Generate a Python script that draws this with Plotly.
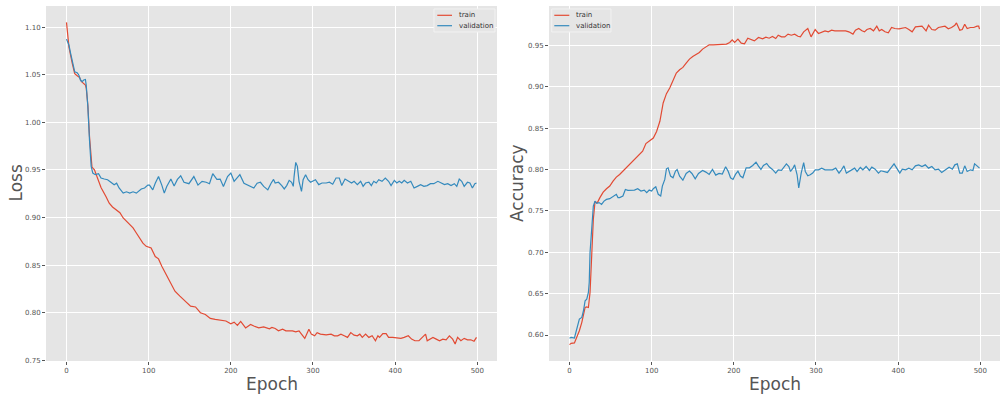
import plotly.graph_objects as go

# ---------------- data ----------------
loss_train_epoch = [0, 3, 7, 10, 13, 16, 18, 21, 23, 24, 26, 28, 30, 31, 34, 38, 42, 48, 52, 56, 60, 65, 69, 73, 77, 81, 85, 89, 93, 97,
                    103, 108, 112, 116, 120, 124, 128, 132, 138, 145, 151, 157, 163, 169, 175, 181, 187, 194, 200, 204, 208, 212,
                    218, 224, 228, 234, 240, 247, 250, 254, 258, 263, 267, 271, 275, 279, 283, 286, 290, 295, 298, 302, 305, 309,
                    316, 322, 326, 330, 334, 338, 342, 346, 350, 354, 357, 360, 364, 368, 372, 376, 379, 381, 385, 389, 392, 397,
                    403, 407, 411, 416, 420, 424, 429, 433, 437, 439, 442, 446, 450, 454, 458, 462, 466, 470, 473, 476, 480, 484,
                    488, 492, 496, 499]
loss_train = [1.105, 1.079, 1.062, 1.051, 1.049, 1.047, 1.043, 1.040, 1.039, 1.036, 1.018, 0.985, 0.955, 0.953, 0.950, 0.940,
              0.9315, 0.922, 0.915, 0.911, 0.908, 0.905, 0.8995, 0.896, 0.8925, 0.889, 0.8837, 0.8785, 0.873, 0.8697, 0.868,
              0.859, 0.8565, 0.8488, 0.8418, 0.8348, 0.8278, 0.8225, 0.8173, 0.812, 0.8068, 0.806, 0.7999, 0.798, 0.794, 0.7929,
              0.792, 0.7912, 0.7883, 0.790, 0.7866, 0.7908, 0.784, 0.7876, 0.786, 0.784, 0.785, 0.783, 0.7844, 0.7833, 0.7809,
              0.7826, 0.7809, 0.7809, 0.7809, 0.7798, 0.7809, 0.7774, 0.7729, 0.7826, 0.7774, 0.7757, 0.779, 0.7774, 0.7767,
              0.7774, 0.7757, 0.7757, 0.7774, 0.7757, 0.774, 0.779, 0.7764, 0.7757, 0.7774, 0.774, 0.7774, 0.774, 0.7757,
              0.7705, 0.7757, 0.774, 0.778, 0.778, 0.774, 0.774, 0.7736, 0.773, 0.774, 0.7757, 0.7722, 0.7705, 0.7705, 0.774,
              0.7774, 0.7705, 0.7722, 0.774, 0.7722, 0.7705, 0.7722, 0.7715, 0.7757, 0.7722, 0.767, 0.774, 0.7705, 0.773,
              0.7715, 0.7715, 0.770, 0.774]

loss_val_epoch = [0, 3, 5, 8, 10, 13, 15, 17, 19, 21, 23, 24, 26, 28, 30, 32, 35, 39, 42, 46, 50, 54, 58, 61, 64, 69, 73, 77, 81,
                  85, 91, 95, 99, 101, 105, 108, 112, 116, 119, 122, 127, 131, 135, 139, 143, 149, 155, 160, 165, 170, 174, 178,
                  183, 187, 191, 196, 200, 204, 208, 211, 216, 220, 225, 228, 232, 236, 240, 245, 249, 252, 254, 258, 262, 265,
                  268, 271, 274, 276, 277, 279, 281, 283, 286, 288, 291, 294, 297, 300, 303, 307, 311, 316, 320, 324, 328, 332,
                  335, 339, 343, 347, 350, 354, 358, 361, 364, 368, 371, 374, 377, 380, 384, 388, 392, 395, 399, 402, 405, 408,
                  411, 415, 419, 423, 427, 431, 435, 439, 443, 447, 452, 456, 460, 464, 468, 472, 475, 478, 481, 484, 488, 491,
                  494, 497, 499]
loss_val = [1.0874, 1.081, 1.0724, 1.060, 1.053, 1.052, 1.0497, 1.0444, 1.0427, 1.0444, 1.045, 1.039, 1.0165, 0.981, 0.954,
            0.9466, 0.945, 0.946, 0.9414, 0.9404, 0.9396, 0.937, 0.9344, 0.936, 0.931, 0.9256, 0.927, 0.9256, 0.927, 0.9256,
            0.930, 0.931, 0.934, 0.934, 0.929, 0.936, 0.943, 0.934, 0.9256, 0.9326, 0.9404, 0.933, 0.940, 0.9438, 0.937,
            0.9355, 0.943, 0.934, 0.938, 0.937, 0.9355, 0.946, 0.940, 0.9404, 0.9326, 0.943, 0.9466, 0.938, 0.9414, 0.945,
            0.936, 0.9344, 0.9326, 0.931, 0.936, 0.937, 0.9326, 0.929, 0.936, 0.940, 0.9362, 0.937, 0.9335, 0.930, 0.9335,
            0.939, 0.937, 0.9327, 0.9432, 0.9579, 0.9537, 0.938, 0.9275, 0.9397, 0.945, 0.9397, 0.937, 0.938, 0.9397, 0.9345,
            0.9362, 0.9362, 0.937, 0.935, 0.9415, 0.9415, 0.9335, 0.9404, 0.938, 0.9362, 0.938, 0.9345, 0.938, 0.9327, 0.9362,
            0.937, 0.9335, 0.938, 0.9362, 0.9397, 0.938, 0.9415, 0.938, 0.9335, 0.939, 0.9362, 0.938, 0.9362, 0.939, 0.9362,
            0.938, 0.931, 0.9327, 0.9345, 0.9327, 0.9335, 0.9355, 0.9355, 0.938, 0.9362, 0.9345, 0.9355, 0.9335, 0.9355,
            0.9327, 0.9404, 0.938, 0.9327, 0.937, 0.9362, 0.931, 0.9355, 0.9362]

acc_train_epoch = [0, 2, 6, 8, 12, 15, 17, 19, 21, 23, 25, 27, 29, 31, 34, 37, 41, 45, 49, 53, 57, 61, 65, 69, 73, 77, 81, 85, 89,
                   93, 97, 102, 106, 110, 114, 118, 122, 126, 130, 134, 138, 142, 146, 150, 154, 158, 162, 166, 170, 175, 179,
                   183, 187, 191, 195, 198, 201, 205, 209, 213, 217, 221, 225, 230, 235, 239, 243, 247, 251, 254, 258, 262, 266,
                   270, 274, 278, 281, 285, 290, 294, 299, 303, 307, 311, 315, 319, 323, 327, 331, 336, 340, 345, 348, 352, 356,
                   359, 362, 366, 370, 374, 377, 380, 384, 388, 392, 396, 401, 405, 409, 413, 417, 421, 425, 429, 434, 437, 441,
                   445, 449, 453, 457, 461, 465, 469, 471, 475, 478, 481, 484, 488, 492, 496, 498, 499]
acc_train = [0.5884, 0.590, 0.5904, 0.5952, 0.6052, 0.6153, 0.6233, 0.6333, 0.634, 0.6333, 0.6514, 0.7036, 0.7398, 0.7606,
             0.760, 0.766, 0.7727, 0.7767, 0.780, 0.786, 0.7908, 0.794, 0.798, 0.802, 0.806, 0.810, 0.814, 0.818, 0.822,
             0.8313, 0.834, 0.838, 0.846, 0.8582, 0.8803, 0.8916, 0.8984, 0.9084, 0.9165, 0.9205, 0.9233, 0.9285, 0.9333,
             0.9365, 0.9385, 0.9414, 0.9454, 0.9478, 0.9506, 0.9506, 0.9506, 0.9506, 0.9514, 0.9514, 0.9534, 0.9566, 0.9534,
             0.9574, 0.9526, 0.9518, 0.9586, 0.9566, 0.9554, 0.9594, 0.9578, 0.9598, 0.9586, 0.9606, 0.9582, 0.9622, 0.9602,
             0.9602, 0.9635, 0.9622, 0.9635, 0.961, 0.9602, 0.9663, 0.9703, 0.9602, 0.9691, 0.9643, 0.9663, 0.9675, 0.9663,
             0.9683, 0.9675, 0.9675, 0.9683, 0.9675, 0.9663, 0.9635, 0.9683, 0.9703, 0.9675, 0.9663, 0.9691, 0.9703, 0.9675,
             0.9731, 0.9675, 0.9691, 0.9663, 0.9651, 0.9715, 0.9703, 0.9699, 0.9703, 0.9715, 0.9691, 0.9663, 0.9723, 0.9731,
             0.9731, 0.9675, 0.9743, 0.9691, 0.9683, 0.9715, 0.9723, 0.9731, 0.9699, 0.9715, 0.9743, 0.9771, 0.9683, 0.9691,
             0.9755, 0.9703, 0.9715, 0.9715, 0.9731, 0.9731, 0.9695]

acc_val_epoch = [0, 2, 6, 9, 12, 15, 17, 19, 21, 23, 24, 25, 27, 29, 31, 33, 36, 39, 42, 45, 49, 53, 57, 59, 61, 65, 68, 71, 75,
                 79, 83, 87, 91, 94, 97, 100, 102, 105, 108, 111, 113, 116, 118, 120, 123, 126, 129, 131, 134, 138, 142, 146,
                 149, 153, 157, 162, 166, 170, 174, 178, 182, 186, 190, 193, 196, 199, 202, 205, 208, 211, 215, 219, 223, 227,
                 230, 233, 236, 240, 243, 247, 251, 254, 258, 261, 264, 267, 269, 272, 274, 277, 279, 282, 285, 287, 290, 293,
                 296, 299, 303, 307, 311, 316, 320, 324, 328, 331, 334, 337, 341, 344, 347, 350, 354, 357, 361, 365, 368, 372,
                 376, 379, 383, 387, 391, 395, 399, 402, 405, 409, 413, 417, 421, 425, 429, 433, 437, 441, 445, 449, 453, 458,
                 462, 466, 469, 472, 475, 478, 481, 484, 488, 491, 493, 496, 499]
acc_val = [0.596, 0.5972, 0.5964, 0.6072, 0.6193, 0.6213, 0.6293, 0.6414, 0.6434, 0.6514, 0.6635, 0.6996, 0.7357, 0.7558,
           0.7618, 0.759, 0.760, 0.7578, 0.7618, 0.7638, 0.7647, 0.767, 0.770, 0.766, 0.766, 0.7679, 0.7759, 0.7747, 0.7747,
           0.7751, 0.7767, 0.7739, 0.7751, 0.7719, 0.7751, 0.7739, 0.7767, 0.7791, 0.770, 0.7679, 0.7799, 0.788, 0.8008,
           0.802, 0.792, 0.790, 0.798, 0.800, 0.792, 0.7871, 0.7952, 0.798, 0.7952, 0.7887, 0.7952, 0.7988, 0.7968, 0.794,
           0.800, 0.7932, 0.7952, 0.7944, 0.8032, 0.798, 0.790, 0.788, 0.794, 0.798, 0.792, 0.790, 0.802, 0.802, 0.8048,
           0.8088, 0.804, 0.800, 0.8048, 0.8072, 0.8032, 0.800, 0.7956, 0.7996, 0.7988, 0.8036, 0.8068, 0.8036, 0.7976,
           0.8016, 0.8056, 0.7936, 0.7776, 0.7956, 0.8084, 0.7976, 0.7924, 0.7936, 0.7956, 0.7996, 0.7996, 0.8016, 0.7996,
           0.7996, 0.7996, 0.8016, 0.7956, 0.7996, 0.8044, 0.7956, 0.7976, 0.7996, 0.8016, 0.7976, 0.8024, 0.7996, 0.8036,
           0.7988, 0.8028, 0.8004, 0.7956, 0.7984, 0.7976, 0.7964, 0.8016, 0.8068, 0.8004, 0.7956, 0.8004, 0.7996, 0.8016,
           0.7996, 0.8044, 0.8056, 0.8036, 0.8056, 0.8016, 0.8036, 0.7996, 0.8004, 0.7964, 0.8004, 0.8028, 0.8004, 0.8056,
           0.8068, 0.7956, 0.7956, 0.8044, 0.7976, 0.7996, 0.7988, 0.8068, 0.8044, 0.8016]

x_ticks = [0, 100, 200, 300, 400, 500]
loss_ticks = [0.75, 0.80, 0.85, 0.90, 0.95, 1.00, 1.05, 1.10]
acc_ticks = [0.60, 0.65, 0.70, 0.75, 0.80, 0.85, 0.90, 0.95]
series_names = ["train", "validation"]

# ---------------- styling ----------------
W, H = 1006, 398
TRAIN_C = "#E24A33"
VAL_C = "#348ABD"
BG = "#E5E5E5"
TXT = "#555555"
FONT = "DejaVu Sans"
LW = 1.2

def px_x(p):
    return p / W

def px_y(p):
    return 1 - p / H

fig = go.Figure()
fig.add_trace(go.Scatter(x=loss_train_epoch, y=loss_train, mode="lines", name=series_names[0],
                         line=dict(color=TRAIN_C, width=LW), xaxis="x", yaxis="y", showlegend=False))
fig.add_trace(go.Scatter(x=loss_val_epoch, y=loss_val, mode="lines", name=series_names[1],
                         line=dict(color=VAL_C, width=LW), xaxis="x", yaxis="y", showlegend=False))
fig.add_trace(go.Scatter(x=acc_train_epoch, y=acc_train, mode="lines", name=series_names[0],
                         line=dict(color=TRAIN_C, width=LW), xaxis="x2", yaxis="y2", showlegend=False))
fig.add_trace(go.Scatter(x=acc_val_epoch, y=acc_val, mode="lines", name=series_names[1],
                         line=dict(color=VAL_C, width=LW), xaxis="x2", yaxis="y2", showlegend=False))

common = dict(showgrid=True, gridcolor="white", gridwidth=1, zeroline=False, showline=False,
              ticks="outside", ticklen=3, tickwidth=1, tickcolor=TXT,
              tickfont=dict(family=FONT, size=7, color=TXT), automargin=False)

ydom = [px_y(361), px_y(6)]
fig.update_layout(
    width=W, height=H,
    margin=dict(l=0, r=0, t=0, b=0),
    paper_bgcolor="white", plot_bgcolor=BG,
    xaxis=dict(domain=[px_x(46), px_x(497)], range=[-24.95, 523.95], tickvals=x_ticks, anchor="y", **common),
    yaxis=dict(domain=ydom, range=[0.7492, 1.1222], tickvals=loss_ticks, tickformat=".2f", anchor="x", **common),
    xaxis2=dict(domain=[px_x(549), px_x(1000)], range=[-24.95, 523.95], tickvals=x_ticks, anchor="y2", **common),
    yaxis2=dict(domain=ydom, range=[0.5686, 0.9975], tickvals=acc_ticks, tickformat=".2f", anchor="x2", **common),
)

ann = []
shapes = []
# axis titles
ann.append(dict(text="Epoch", x=px_x(271.5), y=px_y(384), xref="paper", yref="paper", showarrow=False,
                xanchor="center", yanchor="middle", font=dict(family=FONT, size=17, color=TXT)))
ann.append(dict(text="Epoch", x=px_x(774.5), y=px_y(384), xref="paper", yref="paper", showarrow=False,
                xanchor="center", yanchor="middle", font=dict(family=FONT, size=17, color=TXT)))
ann.append(dict(text="Loss", x=px_x(15), y=px_y(183.5), xref="paper", yref="paper", showarrow=False,
                textangle=-90, xanchor="center", yanchor="middle", font=dict(family=FONT, size=17, color=TXT)))
ann.append(dict(text="Accuracy", x=px_x(516.5), y=px_y(183.5), xref="paper", yref="paper", showarrow=False,
                textangle=-90, xanchor="center", yanchor="middle", font=dict(family=FONT, size=17, color=TXT)))

# legends (drawn as boxes with line samples)
for (bx0, bx1, lx0, lx1, tx) in [(434, 495, 437.3, 452, 457), (551.7, 611, 554.3, 569.3, 574)]:
    shapes.append(dict(type="rect", xref="paper", yref="paper", x0=px_x(bx0), x1=px_x(bx1),
                       y0=px_y(32), y1=px_y(9), fillcolor=BG, line=dict(color="#F2F2F2", width=1)))
    for name, col, yy in [(series_names[0], TRAIN_C, 15.3), (series_names[1], VAL_C, 25.7)]:
        shapes.append(dict(type="line", xref="paper", yref="paper", x0=px_x(lx0), x1=px_x(lx1),
                           y0=px_y(yy), y1=px_y(yy), line=dict(color=col, width=LW)))
        ann.append(dict(text=name, x=px_x(tx), y=px_y(yy), xref="paper", yref="paper", showarrow=False,
                        xanchor="left", yanchor="middle", font=dict(family=FONT, size=7, color="#333333")))

fig.update_layout(annotations=ann, shapes=shapes)
fig.write_html("out.html", config={"displayModeBar": False},
               post_script="document.body.style.margin='0';document.body.style.overflow='hidden';")
